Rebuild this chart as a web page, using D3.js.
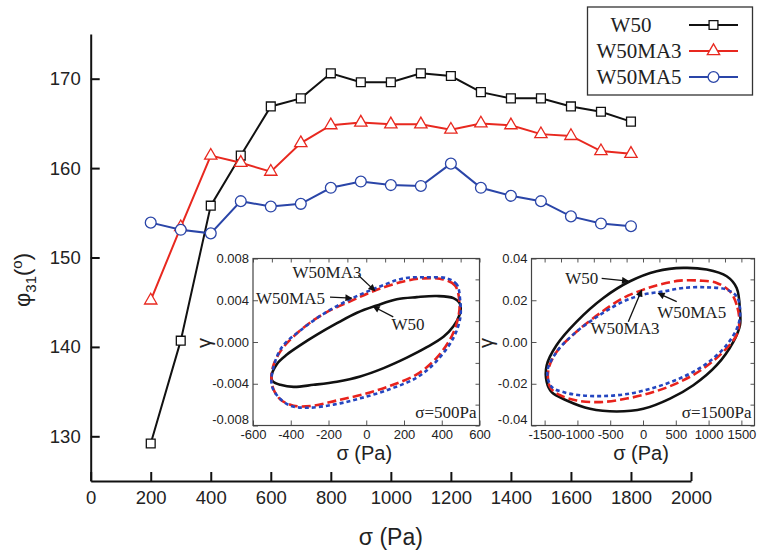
<!DOCTYPE html>
<html>
<head>
<meta charset="utf-8">
<script src="https://cdn.jsdelivr.net/npm/d3@7/dist/d3.min.js"></script>
<style>
  body { margin: 0; background: #fff; }
  svg text { font-family: "Liberation Sans", Arial, Helvetica, sans-serif; fill: #222; }
  svg text.serif { font-family: "Liberation Serif", "Times New Roman", serif; }
</style>
</head>
<body>
<div id="chart"></div>
<script>
// ---- main chart data ----
var sigma = [200, 300, 400, 500, 600, 700, 800, 900, 1000, 1100, 1200, 1300, 1400, 1500, 1600, 1700, 1800];
var w50    = [129.2, 140.7, 155.8, 161.4, 166.9, 167.8, 170.6, 169.6, 169.6, 170.6, 170.3, 168.5, 167.8, 167.8, 166.9, 166.3, 165.2];
var w50ma3 = [145.2, 153.4, 161.4, 160.6, 159.6, 162.8, 164.8, 165.1, 164.9, 164.9, 164.3, 165.0, 164.8, 163.8, 163.6, 161.9, 161.6];
var w50ma5 = [153.9, 153.1, 152.7, 156.3, 155.7, 156.0, 157.8, 158.5, 158.1, 158.0, 160.5, 157.8, 156.9, 156.3, 154.6, 153.8, 153.5];
var seriesNames = ["W50", "W50MA3", "W50MA5"];
var xTicks = [0, 200, 400, 600, 800, 1000, 1200, 1400, 1600, 1800, 2000];
var yTicks = [130, 140, 150, 160, 170];

// ---- inset loops, [sigma, gamma] ----
var loop500W50 = [[-503,-0.0034],[-473,-0.0021],[-420,-0.0012],[-349,-0.0003],[-261,0.0007],[-155,0.0018],[-49,0.0028],[56,0.0035],[162,0.0041],[268,0.0043],[374,0.0044],[462,0.0042],[498,0.0036],[494,0.0026],[462,0.0015],[409,0.0005],[321,-0.0005],[215,-0.0015],[92,-0.0025],[-32,-0.0033],[-155,-0.0038],[-279,-0.0041],[-385,-0.0043],[-455,-0.0041],[-494,-0.0038]];
var loop500MA3 = [[494,0.0038],[471,0.0054],[409,0.0060],[304,0.0061],[198,0.0058],[56,0.0050],[-85,0.0039],[-226,0.0027],[-350,0.0011],[-455,-0.0009],[-500,-0.0028],[-494,-0.0044],[-455,-0.0055],[-385,-0.0061],[-279,-0.0061],[-155,-0.0056],[-14,-0.0050],[127,-0.0042],[268,-0.0031],[374,-0.0015],[454,0.0006],[489,0.0025]];
var loop500MA5 = [[498,0.0039],[480,0.0055],[427,0.0061],[321,0.0062],[198,0.0061],[56,0.0052],[-85,0.0041],[-226,0.0027],[-350,0.0011],[-447,-0.0005],[-494,-0.0026],[-500,-0.0042],[-464,-0.0053],[-402,-0.0061],[-314,-0.0063],[-173,-0.0060],[-32,-0.0054],[127,-0.0045],[268,-0.0034],[374,-0.0018],[462,0.0004],[498,0.0023]];

var loop1500W50 = [[1479,0.0146],[1428,0.0259],[1276,0.0315],[971,0.0347],[615,0.0355],[208,0.0339],[-198,0.0291],[-605,0.0211],[-1011,0.0098],[-1316,-0.0014],[-1468,-0.0111],[-1468,-0.0191],[-1392,-0.0240],[-1163,-0.0280],[-808,-0.0320],[-401,-0.0333],[5,-0.0320],[412,-0.0271],[767,-0.0207],[1124,-0.0111],[1377,0.0001],[1479,0.0082]];
var loop1500MA3 = [[1469,0.0098],[1428,0.0178],[1326,0.0242],[1124,0.0283],[869,0.0294],[564,0.0294],[259,0.0275],[5,0.0251],[-300,0.0211],[-656,0.0138],[-1011,0.0050],[-1316,-0.0047],[-1444,-0.0135],[-1418,-0.0215],[-1265,-0.0255],[-1011,-0.0280],[-656,-0.0288],[-249,-0.0271],[157,-0.0240],[564,-0.0191],[919,-0.0127],[1224,-0.0047],[1428,0.0034]];
var loop1500MA5 = [[1479,0.0162],[1428,0.0218],[1276,0.0251],[971,0.0262],[615,0.0259],[310,0.0242],[5,0.0227],[-300,0.0194],[-656,0.0130],[-1011,0.0050],[-1316,-0.0047],[-1459,-0.0143],[-1392,-0.0215],[-1215,-0.0240],[-960,-0.0255],[-605,-0.0259],[-198,-0.0247],[208,-0.0215],[615,-0.0167],[971,-0.0103],[1276,-0.0014],[1453,0.0082]];

var inset1XTicks = [-600, -400, -200, 0, 200, 400, 600];
var inset1YTicks = [0.008, 0.004, 0, -0.004, -0.008];
var inset1YLabels = ["0.008", "0.004", "0.000", "-0.004", "-0.008"];
var inset2XTicks = [-1500, -1000, -500, 0, 500, 1000, 1500];
var inset2YTicks = [0.04, 0.02, 0, -0.02, -0.04];
var inset2YLabels = ["0.04", "0.02", "0.00", "-0.02", "-0.04"];

// annotations: label, text position, arrow tail, arrow head (data units of inset)
var notes500 = [
  {t: "W50MA3", at: [-208, 0.0067], from: [-42, 0.0064], to: [46, 0.0049]},
  {t: "W50MA5", at: [-401, 0.0042], from: [-192, 0.0043], to: [-77, 0.0042]},
  {t: "W50",    at: [221, 0.0017],  from: [143, 0.0024],  to: [37, 0.0034]}
];
var notes1500 = [
  {t: "W50",    at: [-935, 0.0305], from: [-630, 0.0305], to: [-224, 0.0292]},
  {t: "W50MA5", at: [742, 0.0145],  from: [514, 0.0193],  to: [233, 0.0233]},
  {t: "W50MA3", at: [-274, 0.0066], from: [-224, 0.0097], to: [-20, 0.0249]}
];

var W = 757, H = 551;
var colors = ["#111111", "#e8281f", "#2a45a8"];
var loopColors = ["#111111", "#e8221c", "#2446c0"];
var loopDash = [null, "9,4", "4,3"];

var svg = d3.select("#chart").append("svg")
    .attr("width", W).attr("height", H);

svg.append("defs").append("marker")
    .attr("id", "arrow")
    .attr("viewBox", "0 0 10 10")
    .attr("refX", 9).attr("refY", 5)
    .attr("markerWidth", 9).attr("markerHeight", 7)
    .attr("markerUnits", "userSpaceOnUse")
    .attr("orient", "auto")
    .append("path")
    .attr("d", "M0,0 L10,5 L0,10 z")
    .attr("fill", "#111");

/* MAIN AXES */
var x = d3.scaleLinear().domain([0, 2000]).range([90.7, 691]);
var y = d3.scaleLinear().domain([125, 175]).range([481, 34]);

var gx = svg.append("g").attr("transform", "translate(0," + y(125) + ")");
gx.call(d3.axisBottom(x).tickValues(d3.range(100, 2000, 200)).tickSize(-5).tickSizeOuter(0).tickFormat(""));
gx.call(d3.axisBottom(x).tickValues(xTicks).tickSize(-9).tickSizeOuter(0).tickPadding(10).tickFormat(d3.format("d")));
gx.selectAll("text").style("font-size", "18.5px");

var gy = svg.append("g").attr("transform", "translate(" + x(0) + ",0)");
gy.call(d3.axisLeft(y).tickValues([135, 145, 155, 165, 175]).tickSize(-5).tickSizeOuter(0).tickFormat(""));
gy.call(d3.axisLeft(y).tickValues(yTicks).tickSize(-9).tickSizeOuter(0).tickPadding(10));
gy.selectAll("text").style("font-size", "18.5px");

svg.selectAll(".domain, .tick line").attr("stroke", "#111").attr("stroke-width", 2);

svg.append("text")
    .attr("x", (x(0) + x(2000)) / 2).attr("y", 545)
    .attr("text-anchor", "middle")
    .style("font-size", "23px")
    .text("σ (Pa)");

var ylab = svg.append("text")
    .attr("transform", "translate(30,280) rotate(-90)")
    .attr("text-anchor", "middle")
    .style("font-size", "22px");
ylab.append("tspan").text("φ");
ylab.append("tspan").attr("dy", 6).style("font-size", "15px").text("31");
ylab.append("tspan").attr("dy", -6).text("(");
ylab.append("tspan").attr("dy", -8).style("font-size", "15px").text("o");
ylab.append("tspan").attr("dy", 8).text(")");

/* MAIN SERIES */
var allSeries = [w50, w50ma3, w50ma5];
var symbols = [
  d3.symbol().type(d3.symbolSquare).size(78),
  d3.symbol().type(d3.symbolTriangle).size(66),
  d3.symbol().type(d3.symbolCircle).size(92)
];
var line = d3.line()
    .x(function (d) { return x(d[0]); })
    .y(function (d) { return y(d[1]); });

allSeries.forEach(function (vals, i) {
  var pts = sigma.map(function (s, k) { return [s, vals[k]]; });
  svg.append("path")
      .attr("d", line(pts))
      .attr("fill", "none")
      .attr("stroke", colors[i])
      .attr("stroke-width", 2);
  svg.append("g").selectAll("path")
      .data(pts)
      .enter()
      .append("path")
      .attr("transform", function (d) { return "translate(" + x(d[0]) + "," + y(d[1]) + ")"; })
      .attr("d", symbols[i])
      .attr("fill", "#fff")
      .attr("stroke", colors[i])
      .attr("stroke-width", 1.3);
});

/* LEGEND */
var leg = svg.append("g");
leg.append("rect")
    .attr("x", 587.5).attr("y", 7).attr("width", 165).attr("height", 88)
    .attr("fill", "#fff").attr("stroke", "#333").attr("stroke-width", 1.3);
seriesNames.forEach(function (name, i) {
  var ly = 25 + i * 26;
  leg.append("text")
      .attr("class", "serif")
      .attr("x", i === 0 ? 631 : 639).attr("y", ly)
      .attr("dy", "0.35em")
      .attr("text-anchor", "middle")
      .style("font-size", "21px")
      .text(name);
  leg.append("line")
      .attr("x1", 689).attr("x2", 738).attr("y1", ly).attr("y2", ly)
      .attr("stroke", colors[i]).attr("stroke-width", 2);
  leg.append("path")
      .attr("transform", "translate(713.5," + ly + ")")
      .attr("d", symbols[i])
      .attr("fill", "#fff")
      .attr("stroke", colors[i])
      .attr("stroke-width", 1.3);
});

/* INSETS */
function inset(opts) {
  var ix = d3.scaleLinear().domain(opts.xDomain).range([opts.left, opts.right]);
  var iy = d3.scaleLinear().domain(opts.yDomain).range([425.5, 258.5]);
  var g = svg.append("g");

  g.append("rect")
      .attr("x", opts.left).attr("y", 258.5)
      .attr("width", opts.right - opts.left).attr("height", 167)
      .attr("fill", "#fff");

  var lineI = d3.line()
      .x(function (d) { return ix(d[0]); })
      .y(function (d) { return iy(d[1]); })
      .curve(d3.curveCatmullRomClosed.alpha(0.5));

  opts.loops.forEach(function (lp, i) {
    g.append("path")
        .attr("d", lineI(lp))
        .attr("fill", "none")
        .attr("stroke", loopColors[i])
        .attr("stroke-width", 2.6)
        .attr("stroke-dasharray", loopDash[i]);
  });

  // ticks on all four sides, pointing inward
  var bx = g.append("g").attr("transform", "translate(0,425.5)");
  bx.call(d3.axisBottom(ix).tickValues(opts.xMinor).tickSize(-4).tickSizeOuter(0).tickFormat(""));
  bx.call(d3.axisBottom(ix).tickValues(opts.xTicks).tickSize(-5).tickSizeOuter(0).tickPadding(4));
  g.append("g").attr("transform", "translate(0,258.5)")
      .call(d3.axisTop(ix).tickValues(opts.xMinor.concat(opts.xTicks)).tickSize(-4).tickSizeOuter(0).tickFormat(""));
  var ly = g.append("g").attr("transform", "translate(" + opts.left + ",0)");
  ly.call(d3.axisLeft(iy).tickValues(opts.yMinor).tickSize(-4).tickSizeOuter(0).tickFormat(""));
  ly.call(d3.axisLeft(iy).tickValues(opts.yTicks).tickSize(-5).tickSizeOuter(0).tickPadding(4)
      .tickFormat(function (d, k) { return opts.yLabels[k]; }));
  g.append("g").attr("transform", "translate(" + opts.right + ",0)")
      .call(d3.axisRight(iy).tickValues(opts.yMinor.concat(opts.yTicks)).tickSize(-4).tickSizeOuter(0).tickFormat(""));
  g.selectAll(".domain").remove();
  g.selectAll(".tick line").attr("stroke", "#555").attr("stroke-width", 1);
  g.selectAll(".tick text").style("font-size", "13px").attr("fill", "#222");
  bx.selectAll(".tick text").text(function (d) { return d < 0 ? "-" + Math.abs(d) : d; });
  // keep the lowest y label clear of the first x label
  ly.selectAll(".tick text").filter(function (d) { return d === opts.yDomain[0]; }).attr("dy", "-0.15em");

  g.append("rect")
      .attr("x", opts.left).attr("y", 258.5)
      .attr("width", opts.right - opts.left).attr("height", 167)
      .attr("fill", "none").attr("stroke", "#444").attr("stroke-width", 1.2);

  g.append("text")
      .attr("x", (opts.left + opts.right) / 2 - 2).attr("y", 460)
      .attr("text-anchor", "middle")
      .style("font-size", "20px")
      .text("σ (Pa)");
  g.append("text")
      .attr("transform", "translate(" + (opts.left - opts.gammaOffset) + ",343) rotate(-90)")
      .attr("text-anchor", "middle")
      .style("font-size", "20px")
      .text("γ");

  g.append("text")
      .attr("class", "serif")
      .attr("x", opts.right - 3).attr("y", 418)
      .attr("text-anchor", "end")
      .style("font-size", "17px")
      .text(opts.title);

  opts.notes.forEach(function (n) {
    g.append("line")
        .attr("x1", ix(n.from[0])).attr("y1", iy(n.from[1]))
        .attr("x2", ix(n.to[0])).attr("y2", iy(n.to[1]))
        .attr("stroke", "#111").attr("stroke-width", 1.3)
        .attr("marker-end", "url(#arrow)");
    g.append("text")
        .attr("class", "serif")
        .attr("x", ix(n.at[0])).attr("y", iy(n.at[1]))
        .attr("dy", "0.35em")
        .attr("text-anchor", "middle")
        .style("font-size", "17px")
        .text(n.t);
  });
}

inset({
  left: 253, right: 479.5,
  xDomain: [-600, 600], yDomain: [-0.008, 0.008],
  xTicks: inset1XTicks, xMinor: d3.range(-500, 600, 200),
  yTicks: inset1YTicks, yLabels: inset1YLabels, yMinor: [0.006, 0.002, -0.002, -0.006],
  loops: [loop500W50, loop500MA3, loop500MA5],
  notes: notes500, title: "σ=500Pa", gammaOffset: 42
});

inset({
  left: 531.5, right: 754.5,
  xDomain: [-1700, 1700], yDomain: [-0.04, 0.04],
  xTicks: inset2XTicks, xMinor: d3.range(-1250, 1500, 500),
  yTicks: inset2YTicks, yLabels: inset2YLabels, yMinor: [0.03, 0.01, -0.01, -0.03],
  loops: [loop1500W50, loop1500MA3, loop1500MA5],
  notes: notes1500, title: "σ=1500Pa", gammaOffset: 39
});
</script>
</body>
</html>
